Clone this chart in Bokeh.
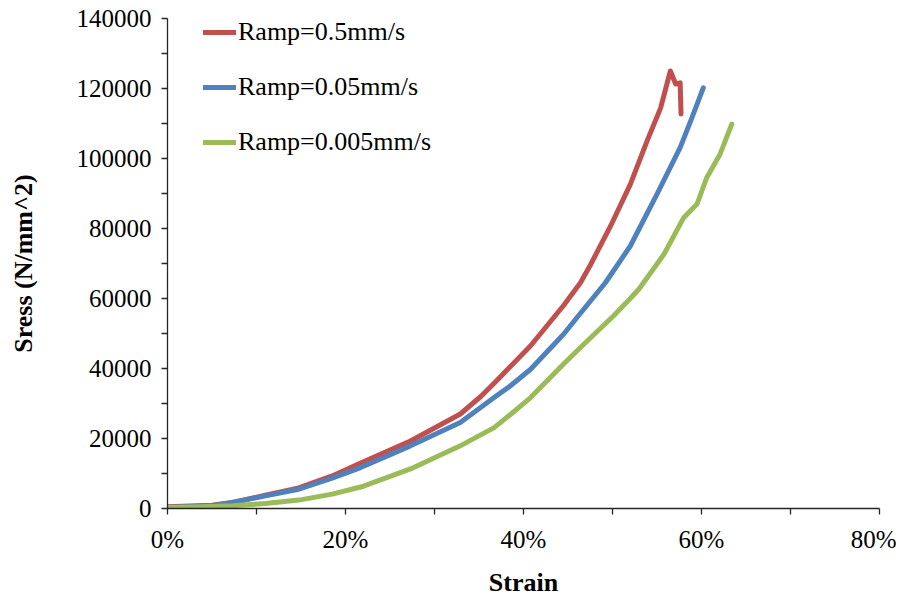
from bokeh.plotting import figure
from bokeh.models import FixedTicker, NumeralTickFormatter, Legend, LegendItem, Range1d
from bokeh.embed import file_html
from bokeh.resources import INLINE

# Ramp = 0.5 mm/s
strain_r = [0.0, 0.05, 0.073, 0.11, 0.1475, 0.185, 0.217, 0.273, 0.329, 0.352, 0.367,
            0.408, 0.445, 0.464, 0.475, 0.498, 0.52, 0.539, 0.554, 0.565, 0.571, 0.576, 0.577]
stress_r = [500, 900, 1700, 3800, 5900, 9300, 13000, 19300, 27000, 32000, 35800,
            46500, 58000, 64500, 69500, 80800, 92600, 105100, 114400, 125000, 121300, 121600, 112700]

# Ramp = 0.05 mm/s
strain_b = [0.0, 0.05, 0.073, 0.11, 0.1475, 0.185, 0.217, 0.273, 0.329, 0.367, 0.385,
            0.408, 0.445, 0.464, 0.492, 0.52, 0.55, 0.576, 0.588, 0.602]
stress_b = [300, 800, 1700, 3600, 5500, 8700, 11700, 17900, 24600, 31700, 35000,
            39800, 49800, 55800, 64500, 75000, 89800, 103100, 110800, 120200]

# Ramp = 0.005 mm/s
strain_g = [0.0, 0.04, 0.073, 0.11, 0.1475, 0.185, 0.218, 0.273, 0.329, 0.367, 0.385,
            0.408, 0.445, 0.464, 0.501, 0.52, 0.53, 0.558, 0.58, 0.595, 0.606, 0.621, 0.634]
stress_g = [300, 500, 800, 1400, 2400, 4100, 6200, 11300, 17900, 23100, 26800,
            31700, 41300, 46000, 55000, 60000, 62800, 72700, 83100, 87000, 94600, 101300, 109800]

series_names = ["Ramp=0.5mm/s", "Ramp=0.05mm/s", "Ramp=0.005mm/s"]
colors = ["#C0504D", "#4F81BD", "#9BBB59"]

x_ticks = [0.0, 0.2, 0.4, 0.6, 0.8]
x_minor = [0.1, 0.3, 0.5, 0.7]
y_ticks = [0, 20000, 40000, 60000, 80000, 100000, 120000, 140000]
y_minor = [10000, 30000, 50000, 70000, 90000, 110000, 130000]

FONT = "Liberation Serif"

p = figure(width=896, height=600, output_backend="svg", toolbar_location=None,
           x_range=Range1d(0, 0.8), y_range=Range1d(0, 140000),
           min_border_left=167, min_border_right=17, min_border_top=18, min_border_bottom=92)
p.outline_line_color = None
p.xgrid.grid_line_color = None
p.ygrid.grid_line_color = None

renderers = []
for xs, ys, c in zip([strain_r, strain_b, strain_g], [stress_r, stress_b, stress_g], colors):
    r = p.line(xs, ys, line_color=c, line_width=5, line_cap="round", line_join="round")
    renderers.append(r)

for ax in (p.xaxis[0], p.yaxis[0]):
    ax.axis_line_color = "#262626"
    ax.axis_line_width = 1.3
    ax.major_tick_line_color = "#262626"
    ax.minor_tick_line_color = "#262626"
    ax.major_tick_line_width = 1.3
    ax.minor_tick_line_width = 1.3
    ax.major_tick_in = 0
    ax.major_tick_out = 6
    ax.minor_tick_in = 0
    ax.minor_tick_out = 6
    ax.major_label_text_font = FONT
    ax.major_label_text_font_size = "25px"
    ax.major_label_text_color = "black"
    ax.axis_label_text_font = FONT
    ax.axis_label_text_font_size = "26px"
    ax.axis_label_text_font_style = "bold"
    ax.axis_label_text_color = "black"

p.xaxis.ticker = FixedTicker(ticks=x_ticks, minor_ticks=x_minor)
p.yaxis.ticker = FixedTicker(ticks=y_ticks, minor_ticks=y_minor)
p.xaxis.formatter = NumeralTickFormatter(format="0%")
p.yaxis.formatter = NumeralTickFormatter(format="0")
p.xaxis.axis_label = "Strain"
p.yaxis.axis_label = "Sress (N/mm^2)"
p.xaxis.major_label_standoff = 11
p.yaxis.major_label_standoff = 10
p.xaxis.axis_label_standoff = 12
p.yaxis.axis_label_standoff = 36

legend = Legend(items=[LegendItem(label=n, renderers=[r]) for n, r in zip(series_names, renderers)],
                location=(36, 351), orientation="vertical",
                label_text_font=FONT, label_text_font_size="26px", label_text_color="black",
                glyph_width=33, glyph_height=30, label_height=30, spacing=25,
                label_standoff=2, padding=0, margin=0,
                border_line_color=None, background_fill_alpha=0)
p.add_layout(legend)

open("out.html", "w").write(file_html(p, INLINE))
